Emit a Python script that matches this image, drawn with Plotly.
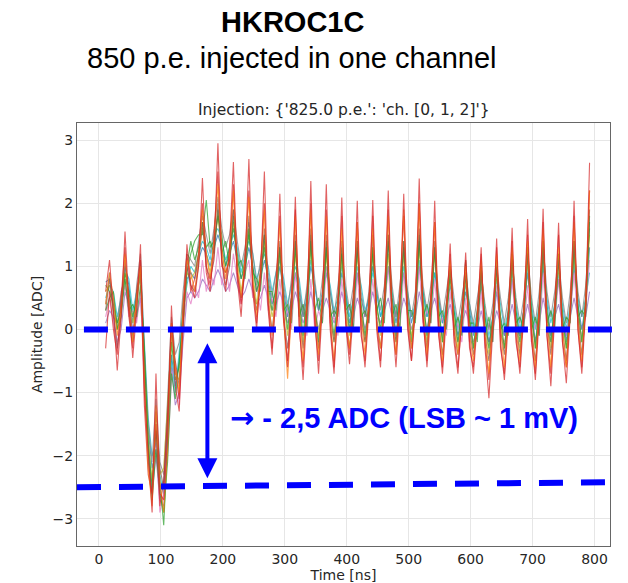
import plotly.graph_objects as go

# sampling grid (ns)
time_ns = [10.75 + 6.25 * i for i in range(126)]

red = [0.6,
 1.1, 0.3, -0.65, 0.2,  1.55, 0.4, -0.45, 0.3,  1.35, -1.0, -2.0, -2.9,  -0.7, -2.6, -2.7, -1.7,
 0.38, -0.9, -1.3, 0.1,  1.35, 0.7, 0.5, 1.0,  2.4, 1.0, 0.7, 1.2,  2.95, 1.1, 0.6, 1.3,
 2.65, 0.9, 0.4, 1.0,  2.7, 0.7, 0.1, 0.8,  2.5, 0.4, -0.3, 0.5,  2.15, 0.2, -0.6, 0.3,
 2.1, 0.1, -0.8, 0.3,  2.35, 0.2, -0.7, 0.4,  2.3, 0.1, -0.6, 0.3,  2.09, 0.1, -0.55, 0.3,
 2.04, 0.0, -0.6, 0.3,  2.05, 0.1, -0.5, 0.3,  2.2, 0.2, -0.6, 0.4,  2.15, 0.1, -0.5, 0.3,
 2.39, 0.2, -0.6, 0.3,  2.04, 0.0, -0.7, 0.2,  1.36, -0.1, -0.6, 0.1,  1.22, -0.2, -0.7, 0.1,
 1.3, -0.3, -1.09, 0.0,  1.44, -0.2, -0.8, 0.1,  1.61, -0.1, -0.7, 0.2,  1.75, -0.1, -0.8, 0.2,
 1.91, -0.1, -0.9, 0.2,  1.69, -0.2, -0.85, 0.2,  2.04, 0.0, -0.7, 0.3,  2.64]

red2 = [-0.3,
 0.6, 0.0, -0.4, 0.5,  1.3, 0.2, -0.3, 0.6,  1.1, -1.2, -2.3, -2.6,  -1.5, -2.8, -2.4, -1.4,
 0.1, -0.6, -1.1, 0.4,  1.2, 0.6, 0.8, 1.2,  2.0, 0.9, 0.6, 1.5,  2.5, 1.0, 0.9, 1.1,
 2.3, 0.8, 0.2, 1.2,  2.2, 0.6, 0.0, 1.0,  2.0, 0.3, -0.4, 0.7,  1.8, 0.1, -0.5, 0.6,
 1.9, 0.0, -0.6, 0.5,  2.0, 0.1, -0.5, 0.6,  1.9, 0.0, -0.7, 0.5,  1.8, 0.1, -0.4, 0.6,
 1.7, -0.1, -0.5, 0.5,  1.8, 0.0, -0.6, 0.6,  1.9, 0.1, -0.4, 0.6,  1.8, 0.0, -0.5, 0.5,
 2.0, 0.1, -0.5, 0.6,  1.7, -0.1, -0.6, 0.4,  1.2, -0.2, -0.7, 0.3,  1.1, -0.3, -0.6, 0.3,
 1.2, -0.2, -0.8, 0.2,  1.3, -0.3, -0.7, 0.3,  1.4, -0.2, -0.6, 0.4,  1.5, -0.2, -0.7, 0.4,
 1.7, -0.1, -0.7, 0.4,  1.5, -0.2, -0.6, 0.4,  1.8, 0.0, -0.6, 0.5,  2.2]

orange = [0.4,
 0.9, 0.5, -0.1, 0.3,  1.2, 0.4, -0.2, 0.5,  1.0, -0.8, -2.2, -2.8,  -1.2, -2.4, -2.9, -1.9,
 0.1, -0.6, -1.0, 0.3,  1.1, 0.9, 0.6, 1.1,  1.9, 1.2, 0.8, 1.4,  2.3, 1.3, 0.8, 1.2,
 2.2, 1.0, 0.5, 1.1,  2.1, 0.8, 0.2, 0.9,  1.9, 0.5, -0.1, 0.6,  1.7, 0.2, -0.78, 0.3,
 1.8, 0.3, -0.5, 0.4,  1.9, 0.3, -0.4, 0.5,  1.8, 0.2, -0.5, 0.4,  1.6, 0.2, -0.3, 0.4,
 1.7, 0.2, -0.4, 0.4,  1.6, 0.1, -0.3, 0.4,  1.8, 0.3, -0.4, 0.5,  1.9, 0.2, -0.3, 0.4,
 2.0, 0.3, -0.4, 0.4,  1.7, 0.2, -0.5, 0.3,  1.1, 0.0, -0.4, 0.2,  1.0, -0.1, -0.5, 0.2,
 1.1, -0.1, -0.7, 0.1,  1.2, 0.0, -0.6, 0.2,  1.3, 0.0, -0.5, 0.3,  1.4, 0.0, -0.6, 0.3,
 1.6, 0.1, -0.6, 0.3,  1.3, 0.0, -0.6, 0.3,  1.7, 0.1, -0.5, 0.4,  2.2]

green = [0.7,
 0.6, 0.4, 0.1, 0.3,  0.9, 0.6, 0.2, 0.5,  1.0, -0.5, -1.8, -2.5,  -1.6, -2.4, -3.1, -1.8,
 -0.2, -0.8, -0.6, 0.4,  0.9, 1.2, 1.4, 1.5,  1.5, 2.05, 1.3, 1.4,  1.8, 1.5, 1.0, 1.3,
 1.6, 1.2, 0.8, 1.1,  1.5, 1.0, 0.6, 0.9,  1.3, 0.7, 0.3, 0.7,  1.3, 0.5, 0.0, 0.5,
 1.3, 0.5, -0.1, 0.5,  1.4, 0.4, -0.2, 0.4,  1.3, 0.4, -0.1, 0.5,  1.2, 0.5, 0.0, 0.5,
 1.3, 0.4, -0.1, 0.4,  1.2, 0.4, 0.0, 0.5,  1.4, 0.5, -0.1, 0.5,  1.3, 0.4, -0.2, 0.4,
 1.4, 0.5, -0.1, 0.5,  1.3, 0.4, -0.2, 0.4,  0.9, 0.3, -0.2, 0.3,  1.1, 0.2, -0.3, 0.3,
 1.0, 0.2, -0.3, 0.2,  1.0, 0.2, -0.3, 0.3,  1.2, 0.3, -0.2, 0.3,  1.3, 0.3, -0.3, 0.4,
 1.4, 0.3, -0.2, 0.4,  1.2, 0.2, -0.3, 0.3,  1.4, 0.4, -0.2, 0.5,  1.7]

green2 = [0.3,
 0.5, 0.6, 0.0, 0.2,  0.8, 0.3, 0.4, 0.2,  0.7, -0.3, -1.9, -2.7,  -1.9, -2.6, -2.9, -2.1,
 -0.7, -1.1, -0.5, 0.1,  1.0, 1.4, 1.1, 1.3,  1.7, 1.3, 1.4, 1.2,  1.9, 1.2, 1.4, 1.0,
 1.8, 1.0, 1.1, 0.8,  1.6, 0.9, 0.8, 0.6,  1.5, 0.6, 0.6, 0.3,  1.3, 0.3, 0.4, 0.1,
 1.4, 0.2, 0.4, 0.0,  1.5, 0.3, 0.5, 0.1,  1.4, 0.2, 0.3, 0.2,  1.3, 0.3, 0.4, 0.0,
 1.4, 0.2, 0.3, 0.1,  1.3, 0.3, 0.5, 0.1,  1.5, 0.2, 0.4, 0.0,  1.4, 0.3, 0.3, 0.1,
 1.5, 0.2, 0.4, 0.1,  1.3, 0.2, 0.3, 0.0,  1.0, 0.0, 0.2, -0.1,  0.9, 0.1, 0.1, -0.2,
 1.0, -0.1, 0.2, -0.2,  1.1, 0.0, 0.1, -0.1,  1.2, 0.1, 0.2, 0.0,  1.3, 0.0, 0.2, -0.1,
 1.4, 0.1, 0.3, 0.0,  1.2, 0.0, 0.2, 0.1,  1.4, 0.2, 0.3, 0.2,  1.8]

blue = [0.75,
 0.8, 0.5, 0.0, 0.5,  1.0, 0.7, 0.1, 0.6,  0.8, -0.4, -1.6, -2.2,  -1.9, -2.5, -2.4, -1.6,
 -0.4, -0.9, -0.5, 0.2,  0.8, 0.9, 0.8, 1.1,  1.3, 1.2, 1.0, 1.3,  1.5, 1.3, 1.0, 1.2,
 1.4, 1.1, 0.8, 1.0,  1.3, 1.0, 0.6, 0.8,  1.1, 0.8, 0.4, 0.6,  1.0, 0.6, 0.2, 0.5,
 0.9, 0.6, 0.2, 0.5,  1.0, 0.7, 0.3, 0.5,  0.9, 0.6, 0.2, 0.4,  0.9, 0.6, 0.1, 0.4,
 0.9, 0.5, 0.2, 0.5,  1.0, 0.6, 0.2, 0.4,  1.0, 0.5, 0.1, 0.5,  0.9, 0.5, 0.1, 0.4,
 1.0, 0.6, 0.2, 0.4,  0.9, 0.5, 0.1, 0.3,  0.7, 0.3, -0.1, 0.2,  0.6, 0.3, -0.1, 0.2,
 0.7, 0.2, -0.2, 0.1,  0.6, 0.2, -0.1, 0.2,  0.8, 0.3, -0.1, 0.3,  0.9, 0.3, -0.2, 0.3,
 1.0, 0.4, -0.1, 0.3,  0.8, 0.3, -0.2, 0.3,  1.0, 0.4, 0.0, 0.4,  1.3]

cyan = [0.5,
 0.7, 0.6, 0.2, 0.5,  0.95, 0.8, 0.3, 0.6,  0.9, -0.2, -1.4, -2.0,  -1.8, -2.3, -2.6, -1.4,
 -0.5, -1.0, -0.4, 0.3,  0.7, 1.0, 0.9, 1.2,  1.4, 1.3, 1.1, 1.5,  1.6, 1.4, 1.1, 1.3,
 1.5, 1.3, 0.9, 1.2,  1.4, 1.2, 0.8, 1.0,  1.2, 1.0, 0.6, 0.9,  1.1, 0.8, 0.4, 0.7,
 1.0, 0.8, 0.3, 0.6,  1.1, 0.7, 0.3, 0.6,  1.0, 0.7, 0.3, 0.5,  1.0, 0.6, 0.2, 0.5,
 1.0, 0.7, 0.3, 0.5,  0.9, 0.6, 0.2, 0.5,  1.0, 0.6, 0.2, 0.5,  1.0, 0.6, 0.2, 0.4,
 1.1, 0.6, 0.2, 0.5,  0.9, 0.5, 0.1, 0.4,  0.8, 0.4, 0.0, 0.3,  0.7, 0.4, 0.0, 0.3,
 0.8, 0.3, -0.1, 0.2,  0.8, 0.4, 0.0, 0.3,  0.9, 0.4, 0.0, 0.3,  1.0, 0.4, 0.0, 0.4,
 1.1, 0.5, 0.1, 0.4,  0.9, 0.4, 0.0, 0.4,  1.1, 0.5, 0.2, 0.5,  0.9]

purple = [0.1,
 0.3, 0.2, -0.2, 0.0,  0.6, 0.4, 0.0, 0.2,  0.5, -0.6, -1.9, -2.6,  -2.0, -2.7, -2.8, -1.8,
 -0.6, -1.2, -1.0, -0.2,  0.5, 0.6, 0.5, 0.6,  0.8, 0.7, 0.6, 0.8,  0.95, 0.8, 0.6, 0.7,
 0.9, 0.7, 0.5, 0.6,  0.8, 0.6, 0.4, 0.5,  0.7, 0.5, 0.3, 0.4,  0.6, 0.4, 0.1, 0.3,
 0.6, 0.4, 0.1, 0.3,  0.6, 0.3, 0.0, 0.3,  0.5, 0.3, 0.1, 0.3,  0.6, 0.3, 0.0, 0.2,
 0.5, 0.3, 0.0, 0.3,  0.6, 0.3, 0.1, 0.3,  0.5, 0.2, 0.0, 0.2,  0.5, 0.3, 0.0, 0.2,
 0.6, 0.3, 0.0, 0.3,  0.5, 0.2, -0.1, 0.2,  0.4, 0.1, -0.2, 0.1,  0.3, 0.1, -0.2, 0.0,
 0.3, 0.0, -0.2, 0.0,  0.3, 0.1, -0.1, 0.1,  0.4, 0.1, -0.1, 0.1,  0.4, 0.1, -0.2, 0.1,
 0.5, 0.2, -0.1, 0.2,  0.4, 0.1, -0.1, 0.2,  0.5, 0.2, 0.0, 0.2,  0.6]

pink = [0.2,
 0.5, 0.1, -0.3, 0.4,  0.7, 0.2, 0.3, 0.1,  0.6, -0.9, -2.0, -2.7,  -1.7, -2.9, -2.6, -2.0,
 -0.8, -0.5, -1.2, 0.0,  0.6, 0.4, 0.7, 0.5,  1.1, 0.6, 0.9, 0.7,  1.3, 0.7, 1.0, 0.6,
 1.2, 0.8, 0.4, 0.9,  1.1, 0.5, 0.7, 0.3,  0.9, 0.3, 0.5, 0.2,  0.8, 0.1, 0.3, 0.0,
 0.9, 0.2, 0.4, -0.1,  0.8, 0.0, 0.3, 0.1,  1.0, 0.1, 0.2, -0.1,  0.8, 0.2, 0.4, 0.0,
 0.9, 0.0, 0.3, 0.1,  0.8, 0.2, 0.1, 0.3,  1.0, 0.1, 0.3, 0.0,  0.9, 0.2, 0.0, 0.2,
 1.0, 0.1, 0.3, 0.1,  0.8, 0.0, 0.2, -0.1,  0.6, -0.1, 0.1, -0.2,  0.5, -0.2, 0.0, -0.1,
 0.6, -0.3, 0.1, -0.2,  0.7, -0.1, -0.2, 0.1,  0.8, 0.0, -0.1, 0.0,  0.7, -0.2, 0.1, -0.1,
 0.9, 0.0, -0.2, 0.1,  0.8, -0.1, 0.0, 0.2,  0.9, 0.1, -0.1, 0.3,  1.1]

gray = [0.4,
 0.9, 0.2, 0.1, 0.6,  0.8, 0.3, -0.2, 0.7,  1.2, -0.3, -1.5, -2.1,  -1.1, -2.1, -2.3, -1.1,
 0.2, -0.4, -0.2, 0.6,  1.2, 1.1, 1.0, 1.4,  1.8, 1.5, 1.2, 1.6,  2.1, 1.6, 1.3, 1.5,
 1.9, 1.4, 1.0, 1.3,  1.7, 1.2, 0.7, 1.1,  1.5, 0.9, 0.5, 0.9,  1.3, 0.7, 0.3, 0.8,
 1.4, 0.7, 0.2, 0.7,  1.4, 0.8, 0.3, 0.8,  1.3, 0.6, 0.2, 0.7,  1.2, 0.7, 0.3, 0.7,
 1.3, 0.6, 0.2, 0.6,  1.3, 0.7, 0.3, 0.7,  1.4, 0.7, 0.2, 0.7,  1.3, 0.6, 0.2, 0.6,
 1.4, 0.7, 0.3, 0.7,  1.2, 0.6, 0.2, 0.6,  1.0, 0.5, 0.1, 0.5,  0.9, 0.4, 0.1, 0.5,
 0.9, 0.4, 0.0, 0.4,  1.0, 0.5, 0.1, 0.5,  1.1, 0.5, 0.1, 0.5,  1.2, 0.5, 0.1, 0.6,
 1.3, 0.6, 0.2, 0.6,  1.1, 0.5, 0.1, 0.6,  1.3, 0.6, 0.2, 0.7,  1.6]

brown = [0.3,
 0.8, 0.3, -0.3, 0.2,  1.1, 0.5, -0.1, 0.3,  1.1, -0.7, -2.1, -2.6,  -1.3, -2.2, -2.5, -1.3,
 0.0, -0.5, -0.9, 0.1,  1.0, 0.7, 0.6, 1.0,  1.7, 1.0, 0.8, 1.1,  2.0, 1.1, 0.7, 1.0,
 1.9, 0.9, 0.5, 0.9,  1.8, 0.7, 0.3, 0.7,  1.6, 0.4, 0.0, 0.5,  1.4, 0.2, -0.3, 0.3,
 1.5, 0.3, -0.3, 0.3,  1.6, 0.3, -0.3, 0.4,  1.5, 0.2, -0.2, 0.3,  1.4, 0.2, -0.3, 0.3,
 1.4, 0.2, -0.2, 0.3,  1.5, 0.2, -0.3, 0.4,  1.5, 0.3, -0.2, 0.4,  1.4, 0.2, -0.3, 0.3,
 1.6, 0.2, -0.3, 0.4,  1.4, 0.1, -0.4, 0.3,  1.0, 0.0, -0.4, 0.1,  0.9, 0.0, -0.4, 0.1,
 0.9, -0.1, -0.5, 0.1,  1.0, 0.0, -0.4, 0.2,  1.1, 0.1, -0.4, 0.2,  1.2, 0.0, -0.5, 0.2,
 1.3, 0.1, -0.4, 0.3,  1.1, 0.0, -0.5, 0.2,  1.4, 0.2, -0.4, 0.3,  1.9]

olive = [0.6,
 0.7, 0.3, 0.0, 0.4,  0.9, 0.5, 0.1, 0.4,  0.9, -0.5, -1.7, -2.4,  -1.5, -2.3, -2.2, -1.2,
 -0.1, -0.7, -0.8, 0.0,  0.9, 0.8, 0.9, 1.2,  1.6, 1.2, 0.9, 1.3,  1.8, 1.2, 0.9, 1.1,
 1.7, 1.1, 0.6, 1.0,  1.6, 0.9, 0.4, 0.8,  1.4, 0.6, 0.2, 0.5,  1.2, 0.4, -0.1, 0.4,
 1.2, 0.4, -0.2, 0.4,  1.3, 0.4, -0.1, 0.4,  1.2, 0.3, -0.2, 0.4,  1.1, 0.3, -0.1, 0.4,
 1.2, 0.3, -0.2, 0.4,  1.3, 0.4, -0.1, 0.4,  1.2, 0.3, -0.2, 0.4,  1.2, 0.3, -0.1, 0.3,
 1.3, 0.4, -0.2, 0.4,  1.2, 0.3, -0.2, 0.3,  0.8, 0.2, -0.3, 0.2,  0.8, 0.1, -0.3, 0.2,
 0.8, 0.1, -0.4, 0.1,  0.9, 0.1, -0.3, 0.2,  1.0, 0.2, -0.3, 0.2,  1.1, 0.2, -0.3, 0.3,
 1.2, 0.2, -0.3, 0.3,  1.0, 0.1, -0.3, 0.3,  1.2, 0.3, -0.2, 0.4,  1.5]

series = [
    ("ch blue", blue, "#1f77b4"),
    ("ch cyan", cyan, "#17becf"),
    ("ch purple", purple, "#9467bd"),
    ("ch pink", pink, "#e377c2"),
    ("ch gray", gray, "#7f7f7f"),
    ("ch olive", olive, "#bcbd22"),
    ("ch green", green, "#2ca02c"),
    ("ch green 2", green2, "#2ca02c"),
    ("ch brown", brown, "#8c564b"),
    ("ch red 2", red2, "#d62728"),
    ("ch orange", orange, "#ff7f0e"),
    ("ch red", red, "#d62728"),
]

x_ticks = [0, 100, 200, 300, 400, 500, 600, 700, 800]
y_ticks = [-3, -2, -1, 0, 1, 2, 3]

fig = go.Figure()
for name, vals, col in series:
    fig.add_trace(go.Scatter(x=time_ns, y=vals, mode="lines", name=name,
                             line=dict(color=col, width=1.1), opacity=0.72,
                             showlegend=False))

axis_common = dict(showgrid=True, gridcolor="#e6e6e6", gridwidth=1,
                   zeroline=False, showline=True, linecolor="#666666", linewidth=1,
                   mirror=True, ticks="", automargin=False,
                   tickfont=dict(family="DejaVu Sans", size=14, color="#262626"))

fig.update_layout(
    width=628, height=583,
    margin=dict(l=77, r=18, t=123, b=37),
    paper_bgcolor="white", plot_bgcolor="white",
    xaxis=dict(range=[-35.5, 825], tickvals=x_ticks,
               title=dict(text="Time [ns]", standoff=2,
                          font=dict(family="DejaVu Sans", size=14, color="#262626")),
               **axis_common),
    yaxis=dict(range=[-3.43, 3.27], tickvals=y_ticks,
               title=dict(text="Amplitude [ADC]", standoff=6,
                          font=dict(family="DejaVu Sans", size=14, color="#262626")),
               **axis_common),
)

# overlays (slide annotations)
blue_c = "#0000ff"
fig.add_shape(type="line", xref="paper", yref="y", x0=0.013, x1=1.019, y0=0, y1=0,
              line=dict(color=blue_c, width=6, dash="24px,18px"))
fig.add_shape(type="line", xref="paper", yref="y", x0=0.0, x1=1.0, y0=-2.5, y1=-2.42,
              line=dict(color=blue_c, width=6, dash="24px,18px"))

fig.add_annotation(x=175, y=-0.22, ax=175, ay=-2.38, xref="x", yref="y",
                   axref="x", ayref="y", text="", showarrow=True,
                   arrowhead=2, arrowside="end+start", arrowsize=1,
                   arrowwidth=4, arrowcolor=blue_c)

fig.add_annotation(xref="paper", yref="paper", x=0.283, y=0.303, xanchor="left",
                   yanchor="middle", showarrow=False,
                   text="<span style='font-family:DejaVu Sans'><b>→</b></span><b> - 2,5 ADC (LSB ~ 1 mV)</b>",
                   font=dict(family="Liberation Sans, Arial", size=29, color=blue_c))

fig.add_annotation(xref="paper", yref="paper", x=0.5, y=1.0, yshift=2,
                   xanchor="center", yanchor="bottom", showarrow=False,
                   text="Injection: {'825.0 p.e.': 'ch. [0, 1, 2]'}",
                   font=dict(family="DejaVu Sans", size=15.5, color="#262626"))

fig.add_annotation(xref="paper", yref="paper", x=0.405, y=1.239,
                   xanchor="center", yanchor="middle", showarrow=False,
                   text="<b>HKROC1C</b>",
                   font=dict(family="Liberation Sans, Arial", size=29, color="black"))
fig.add_annotation(xref="paper", yref="paper", x=0.404, y=1.154,
                   xanchor="center", yanchor="middle", showarrow=False,
                   text="850 p.e. injected in one channel",
                   font=dict(family="Liberation Sans, Arial", size=29, color="black"))

fig.write_html("out.html")
